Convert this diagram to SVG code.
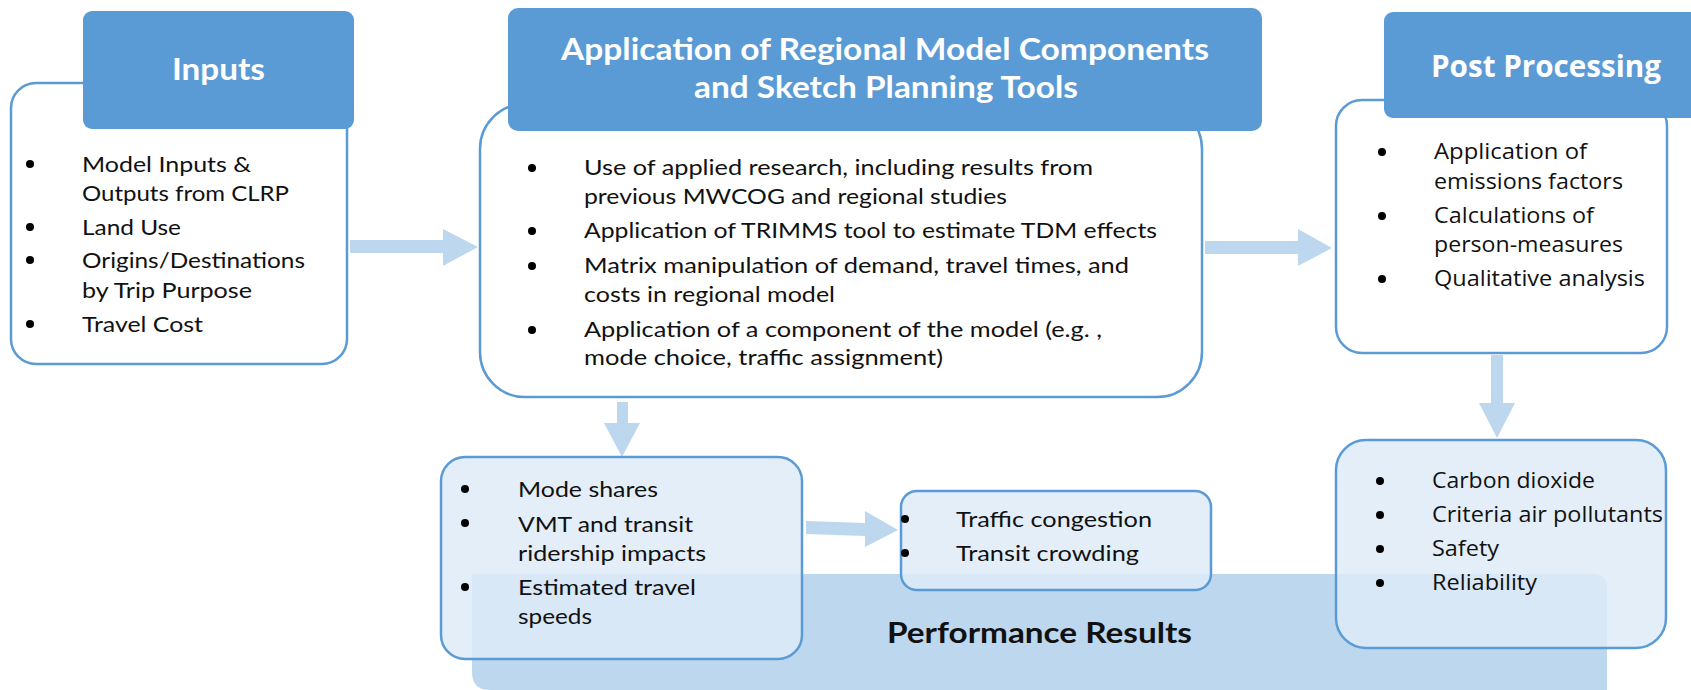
<svg xmlns="http://www.w3.org/2000/svg" width="1691" height="690" viewBox="0 0 1691 690">
<style>
.hdr{fill:#5B9BD5}
.body{fill:#FFFFFF;stroke:#5B9BD5;stroke-width:2.5}
.res{fill:#DEEBF7;fill-opacity:0.85;stroke:#5B9BD5;stroke-width:2.5}
.band{fill:#BDD7EE}
.arrow{fill:#BDD7EE}
.title{font-family:Lato,"Liberation Sans",sans-serif;font-weight:bold;fill:#FFFFFF}
.t{font-family:Lato,"Liberation Sans",sans-serif;font-size:21px;fill:#111111}
.tw{font-family:"Open Sans","Liberation Sans",sans-serif;font-size:21px;fill:#111111}
.dot{fill:#000000}
</style>
<rect width="1691" height="690" fill="#FFFFFF"/>

<g id="performance-results">
<path class="band" d="M472,574 H1593 Q1607,574 1607,588 V690 H490 Q472,690 472,672 Z"/>
<text x="887" y="643" font-family="Lato,'Liberation Sans',sans-serif" font-weight="bold" font-size="29" fill="#111111" textLength="305" lengthAdjust="spacingAndGlyphs">Performance Results</text>
</g>

<g id="connectors">
<polygon class="arrow" points="350,240 443,240 443,229 478,247 443,266 443,253 350,253"/>
<polygon class="arrow" points="1205,241 1298,241 1298,229 1332,248 1298,266 1298,254 1205,254"/>
<polygon class="arrow" points="617,402 628,402 628,423 640,423 622,457 604,423 617,423"/>
<polygon class="arrow" points="806,521 865,523 865,511 898,530 865,547 865,536 806,534"/>
<polygon class="arrow" points="1491,355 1503,355 1503,403 1515,403 1497,438 1479,403 1491,403"/>
</g>

<g id="inputs">
<rect class="body" x="11" y="83" width="336" height="281" rx="25"/>
<rect class="hdr" x="83" y="11" width="271" height="118" rx="9"/>
<text class="title" x="172" y="80" font-size="30" textLength="93" lengthAdjust="spacingAndGlyphs">Inputs</text>
<circle class="dot" cx="30" cy="164" r="4"/>
<circle class="dot" cx="30" cy="227" r="4"/>
<circle class="dot" cx="30" cy="260" r="4"/>
<circle class="dot" cx="30" cy="324" r="4"/>
<text class="t" font-size="22" x="82" y="172" textLength="169" lengthAdjust="spacingAndGlyphs">Model Inputs &amp;</text>
<text class="t" font-size="22" x="82" y="201" textLength="207" lengthAdjust="spacingAndGlyphs">Outputs from CLRP</text>
<text class="t" font-size="22" x="82" y="235" textLength="99" lengthAdjust="spacingAndGlyphs">Land Use</text>
<text class="t" font-size="22" x="82" y="268" textLength="223" lengthAdjust="spacingAndGlyphs">Origins/Destinations</text>
<text class="t" font-size="22" x="82" y="298" textLength="170" lengthAdjust="spacingAndGlyphs">by Trip Purpose</text>
<text class="t" font-size="22" x="82" y="332" textLength="121" lengthAdjust="spacingAndGlyphs">Travel Cost</text>
</g>

<g id="regional-model">
<rect class="body" x="480" y="104" width="722" height="293" rx="45"/>
<rect class="hdr" x="508" y="8" width="754" height="123" rx="10"/>
<text class="title" x="561" y="60" font-size="30" textLength="648" lengthAdjust="spacingAndGlyphs">Application of Regional Model Components</text>
<text class="title" x="694" y="98" font-size="30" textLength="384" lengthAdjust="spacingAndGlyphs">and Sketch Planning Tools</text>
<circle class="dot" cx="532" cy="168" r="4"/>
<circle class="dot" cx="532" cy="231" r="4"/>
<circle class="dot" cx="532" cy="266" r="4"/>
<circle class="dot" cx="532" cy="330" r="4"/>
<text class="t" x="584" y="175" textLength="509" lengthAdjust="spacingAndGlyphs">Use of applied research, including results from</text>
<text class="t" x="584" y="204" textLength="423" lengthAdjust="spacingAndGlyphs">previous MWCOG and regional studies</text>
<text class="t" x="584" y="238" textLength="573" lengthAdjust="spacingAndGlyphs">Application of TRIMMS tool to estimate TDM effects</text>
<text class="t" x="584" y="273" textLength="545" lengthAdjust="spacingAndGlyphs">Matrix manipulation of demand, travel times, and</text>
<text class="t" x="584" y="302" textLength="251" lengthAdjust="spacingAndGlyphs">costs in regional model</text>
<text class="t" x="584" y="337" textLength="518" lengthAdjust="spacingAndGlyphs">Application of a component of the model (e.g. ,</text>
<text class="t" x="584" y="365" textLength="359" lengthAdjust="spacingAndGlyphs">mode choice, traffic assignment)</text>
</g>

<g id="post-processing">
<rect class="body" x="1336" y="100" width="331" height="253" rx="26"/>
<rect class="hdr" x="1384" y="12" width="320" height="106" rx="9"/>
<text x="1431" y="77" font-family="'Open Sans','Liberation Sans',sans-serif" font-weight="bold" font-size="30" fill="#FFFFFF" textLength="230" lengthAdjust="spacingAndGlyphs">Post Processing</text>
<circle class="dot" cx="1382" cy="152" r="4"/>
<circle class="dot" cx="1382" cy="216" r="4"/>
<circle class="dot" cx="1382" cy="279" r="4"/>
<text class="tw" x="1434" y="159" textLength="153" lengthAdjust="spacingAndGlyphs">Application of</text>
<text class="tw" x="1434" y="189" textLength="189" lengthAdjust="spacingAndGlyphs">emissions factors</text>
<text class="tw" x="1434" y="223" textLength="160" lengthAdjust="spacingAndGlyphs">Calculations of</text>
<text class="tw" x="1434" y="252" textLength="189" lengthAdjust="spacingAndGlyphs">person-measures</text>
<text class="tw" x="1434" y="286" textLength="211" lengthAdjust="spacingAndGlyphs">Qualitative analysis</text>
</g>

<g id="mode-shares">
<rect class="res" x="441" y="457" width="361" height="202" rx="24"/>
<circle class="dot" cx="465" cy="489" r="4"/>
<circle class="dot" cx="465" cy="523" r="4"/>
<circle class="dot" cx="465" cy="587" r="4"/>
<text class="t" x="518" y="497" textLength="140" lengthAdjust="spacingAndGlyphs">Mode shares</text>
<text class="t" x="518" y="532" textLength="175" lengthAdjust="spacingAndGlyphs">VMT and transit</text>
<text class="t" x="518" y="561" textLength="188" lengthAdjust="spacingAndGlyphs">ridership impacts</text>
<text class="t" x="518" y="595" textLength="178" lengthAdjust="spacingAndGlyphs">Estimated travel</text>
<text class="t" x="518" y="624" textLength="74" lengthAdjust="spacingAndGlyphs">speeds</text>
</g>

<g id="congestion">
<rect class="res" x="901" y="491" width="310" height="99" rx="16"/>
<circle class="dot" cx="905" cy="519" r="4"/>
<circle class="dot" cx="905" cy="553" r="4"/>
<text class="t" x="956" y="527" textLength="196" lengthAdjust="spacingAndGlyphs">Traffic congestion</text>
<text class="t" x="956" y="561" textLength="183" lengthAdjust="spacingAndGlyphs">Transit crowding</text>
</g>

<g id="emissions-results">
<rect class="res" x="1336" y="440" width="330" height="208" rx="30"/>
<circle class="dot" cx="1380" cy="481" r="4"/>
<circle class="dot" cx="1380" cy="515" r="4"/>
<circle class="dot" cx="1380" cy="549" r="4"/>
<circle class="dot" cx="1380" cy="583" r="4"/>
<text class="tw" font-size="22" x="1432" y="488" textLength="163" lengthAdjust="spacingAndGlyphs">Carbon dioxide</text>
<text class="tw" font-size="22" x="1432" y="522" textLength="231" lengthAdjust="spacingAndGlyphs">Criteria air pollutants</text>
<text class="tw" font-size="22" x="1432" y="556" textLength="67" lengthAdjust="spacingAndGlyphs">Safety</text>
<text class="tw" font-size="22" x="1432" y="590" textLength="105" lengthAdjust="spacingAndGlyphs">Reliability</text>
</g>
</svg>
